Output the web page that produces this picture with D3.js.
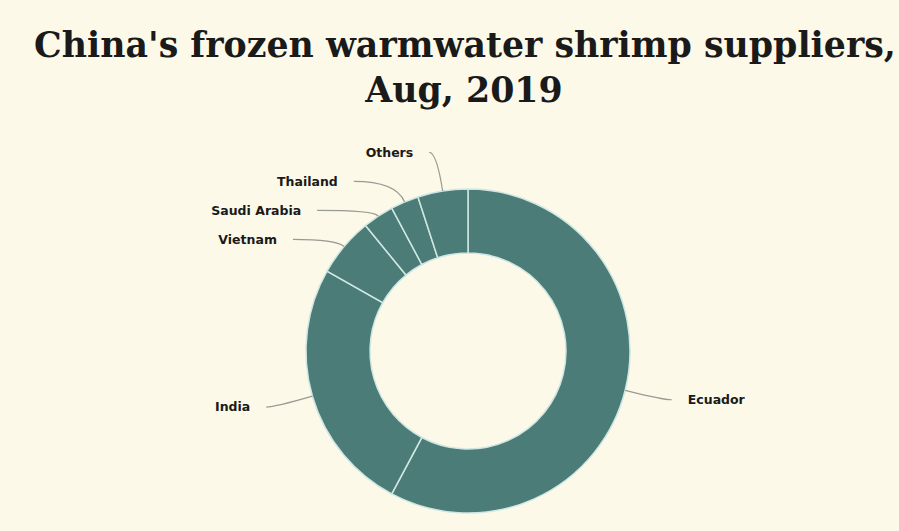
<!DOCTYPE html>
<html>
<head>
<meta charset="utf-8">
<script src="https://cdn.jsdelivr.net/npm/d3@7"></script>
<style>
  body { margin: 0; background: #fdf9e8; }
  .title { font-family: "DejaVu Serif", Georgia, serif; font-weight: bold; fill: #1a1a1a; }
  .label { font-family: "DejaVu Sans", Verdana, sans-serif; font-weight: bold; font-size: 12.5px; fill: #1a1a1a; }
  .leader { fill: none; stroke: #9a9a94; stroke-width: 1.2; }
</style>
</head>
<body>
<script>
//Data (share of supply, %)
const suppliers = ["Ecuador", "India", "Vietnam", "Saudi Arabia", "Thailand", "Others"];
const shares = [57.8, 25.4, 5.9, 3.1, 2.8, 5.0];
const titleLines = ["China's frozen warmwater shrimp suppliers,", "Aug, 2019"];

//Global layout
const width = 899;
const height = 531;
const cx = 468, cy = 351;
const outerR = 162, innerR = 98;

const svg = d3.select("body")
    .append("svg")
    .attr("width", width)
    .attr("height", height);

svg.append("rect")
    .attr("width", width)
    .attr("height", height)
    .attr("fill", "#fdf9e8");

//Title, sized to fit the first line across the page
const t1 = svg.append("text")
    .attr("class", "title")
    .attr("text-anchor", "middle")
    .attr("x", 465)
    .attr("y", 57)
    .style("font-size", "34px")
    .text(titleLines[0]);

const fit = 34 * 862 / t1.node().getComputedTextLength();
t1.style("font-size", fit + "px");

svg.append("text")
    .attr("class", "title")
    .attr("text-anchor", "middle")
    .attr("x", 464)
    .attr("y", 102)
    .style("font-size", fit + "px")
    .text(titleLines[1]);

//Donut
const data = suppliers.map((name, i) => ({ name: name, value: shares[i] }));

const pie = d3.pie()
    .sort(null)
    .value(d => d.value);

const arc = d3.arc()
    .innerRadius(innerR)
    .outerRadius(outerR);

const arcs = pie(data);

const g = svg.append("g")
    .attr("transform", "translate(" + cx + "," + cy + ")");

g.selectAll("path.slice")
    .data(arcs)
    .join("path")
    .attr("class", "slice")
    .attr("d", arc)
    .attr("fill", "#4b7c77")
    .attr("stroke", "#cfe7e3")
    .attr("stroke-width", 1.5);

//Label layout: start on a circle, then push left-side labels apart
arcs.forEach(d => {
    d.mid = (d.startAngle + d.endAngle) / 2;
    d.side = d.mid < Math.PI ? 1 : -1;
    d.ly = -201 * Math.cos(d.mid);
});

const gap = 29;
[1, -1].forEach(side => {
    const group = arcs.filter(d => d.side === side).sort((a, b) => a.ly - b.ly);
    for (let i = 1; i < group.length; i++) {
        if (group[i].ly < group[i - 1].ly + gap) group[i].ly = group[i - 1].ly + gap;
    }
});

arcs.forEach(d => {
    const k = Math.max(0, 1 - (d.ly / 202) * (d.ly / 202));
    d.lx = d.side * 210 * Math.sqrt(k);
    d.px = outerR * Math.sin(d.mid);
    d.py = -outerR * Math.cos(d.mid);
});

//Leader lines
g.selectAll("path.leader")
    .data(arcs)
    .join("path")
    .attr("class", "leader")
    .attr("d", d => {
        const dirX = Math.sin(d.mid), dirY = -Math.cos(d.mid);
        let t = Math.abs(dirY) > 0.05 ? (d.ly - d.py) / dirY : 20;
        t = Math.max(0, t);
        let qx = d.px + dirX * t;
        if (d.side === 1) qx = Math.min(qx, d.lx); else qx = Math.max(qx, d.lx);
        const p = d3.path();
        p.moveTo(d.px, d.py);
        p.quadraticCurveTo(qx, d.ly, d.lx, d.ly);
        return p.toString();
    });

//Labels
g.selectAll("text.label")
    .data(arcs)
    .join("text")
    .attr("class", "label")
    .attr("x", d => d.lx + d.side * 16)
    .attr("y", d => d.ly)
    .attr("dy", "0.35em")
    .attr("text-anchor", d => d.side === 1 ? "start" : "end")
    .text(d => d.data.name);
</script>
</body>
</html>
